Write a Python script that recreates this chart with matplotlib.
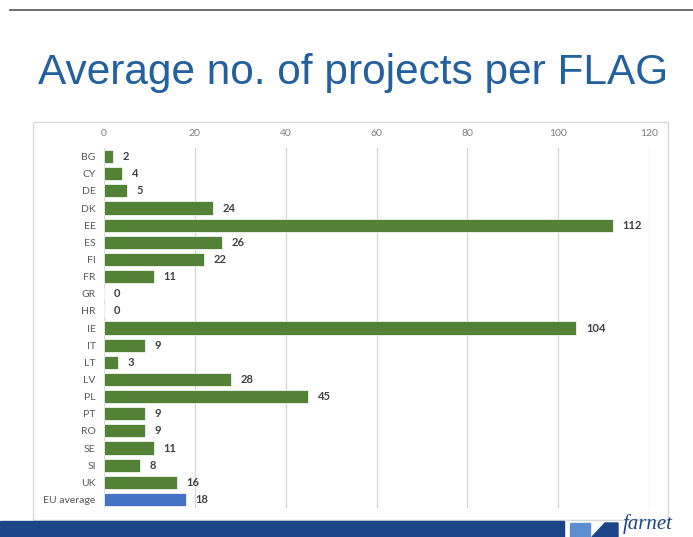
import matplotlib.pyplot as plt
from matplotlib.patches import Rectangle, Polygon

# data
countries = ['BG', 'CY', 'DE', 'DK', 'EE', 'ES', 'FI', 'FR', 'GR', 'HR', 'IE',
             'IT', 'LT', 'LV', 'PL', 'PT', 'RO', 'SE', 'SI', 'UK', 'EU average']
projects = [2, 4, 5, 24, 112, 26, 22, 11, 0, 0, 104,
            9, 3, 28, 45, 9, 9, 11, 8, 16, 18]
x_ticks = [0, 20, 40, 60, 80, 100, 120]

GREEN = '#538135'
BLUE = '#4472c4'
W, H = 693, 537

fig = plt.figure(figsize=(W / 100, H / 100), dpi=100)

# thin line across the top of the slide
fig.add_artist(plt.Line2D([10 / W, 1], [1 - 10 / H, 1 - 10 / H], color='#555555', lw=1.2))

fig.text(353 / W, 1 - 73 / H, 'Average no. of projects per FLAG', ha='center', va='center',
         fontsize=30.5, color='#22609e', family='Liberation Sans')

# chart frame
fig.add_artist(Rectangle((33 / W, 1 - 520 / H), 635 / W, 398 / H, transform=fig.transFigure,
                         fill=False, edgecolor='#d9d9d9', lw=1))

ax = fig.add_axes([104 / W, 1 - 508 / H, 545 / W, 360 / H])
pos = range(len(countries))
colors = [BLUE if c == 'EU average' else GREEN for c in countries]
ax.barh(pos, projects, height=0.76, color=colors, edgecolor='white', lw=0.5, zorder=3)
for y, v in zip(pos, projects):
    ax.annotate(str(v), (v, y), xytext=(7, 0), textcoords='offset points', va='center', ha='left',
                fontsize=8, fontweight='bold', color='#404040', family='Lato')

ax.set_xlim(0, 120)
ax.set_ylim(len(countries) - 0.5, -0.5)
ax.set_xticks(x_ticks)
ax.set_yticks(list(pos))
ax.set_yticklabels(countries, fontsize=7.5, color='#595959', family='Lato')
ax.xaxis.tick_top()
for lab in ax.get_xticklabels():
    lab.set_fontsize(7.5)
    lab.set_color('#7f7f7f')
    lab.set_family('Lato')
ax.tick_params(length=0, pad=6)
ax.tick_params(axis='x', pad=7)
ax.grid(axis='x', color='#d9d9d9', lw=1, zorder=0)
for s in ax.spines.values():
    s.set_visible(False)

# footer band and logo
fig.add_artist(Rectangle((0, 0), 564 / W, 16 / H, transform=fig.transFigure, color='#1b4586'))
fig.add_artist(Rectangle((570 / W, 0), 20 / W, 14 / H, transform=fig.transFigure, color='#5b8fd0'))
fig.add_artist(Polygon([(592 / W, 0), (605 / W, 14 / H), (618 / W, 14 / H), (618 / W, 0)],
                       closed=True, transform=fig.transFigure, color='#1b4586'))
fig.text(623 / W, 3 / H, 'farnet', fontsize=15, style='italic', color='#1b4586',
         family='Liberation Serif', va='bottom')

fig.savefig('out.png', dpi=100)
